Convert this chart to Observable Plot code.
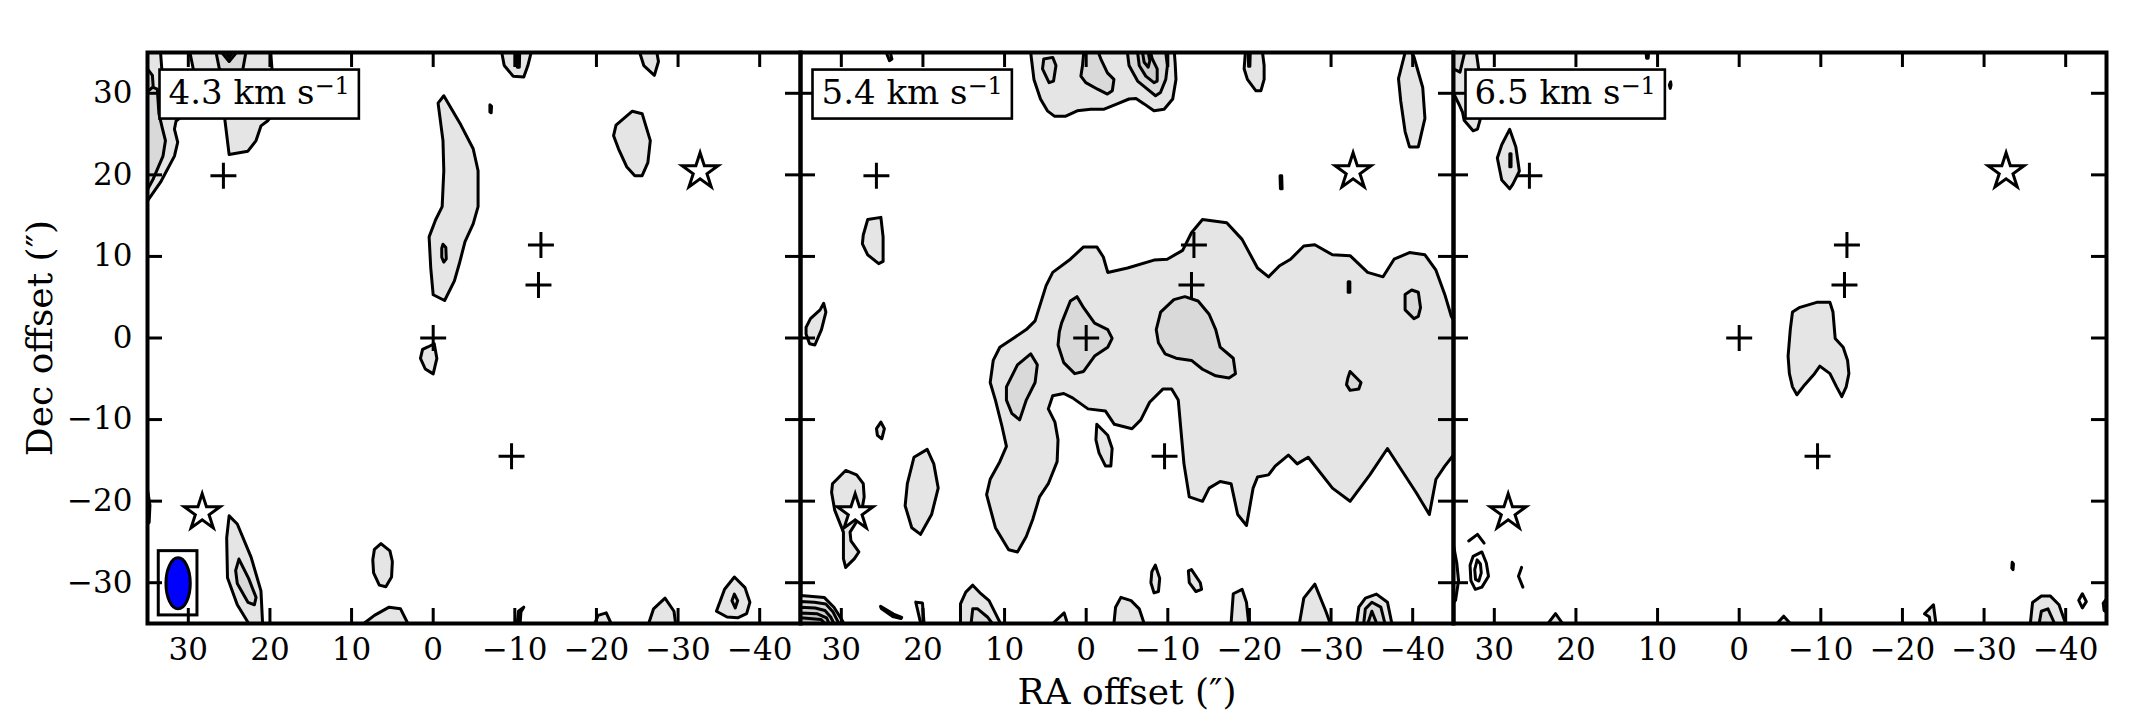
<!DOCTYPE html>
<html><head><meta charset="utf-8">
<script src="https://cdn.jsdelivr.net/npm/d3@7"></script>
<script src="https://cdn.jsdelivr.net/npm/@observablehq/plot@0.6"></script>
<style>
html,body{margin:0;padding:0;background:#fff;}
#chart{position:relative;width:2129px;height:721px;overflow:hidden;background:#fff;}
#chart svg{position:absolute;top:0;}
</style></head><body><div id="chart"></div>
<script>
// ---------- data ----------
const velocities = ["4.3", "5.4", "6.5"];
const velocityUnit = "km s";
const velocityExp = "−1";
const xLabel = "RA offset (″)";
const yLabel = "Dec offset (″)";
const xTicks = [30, 20, 10, 0, -10, -20, -30, -40];
const yTicks = [-30, -20, -10, 0, 10, 20, 30];
const raDomain = [35, -45];
const decDomain = [-35, 35];
const plusRA = [25.7, -13.2, -12.9, 0, -9.6];
const plusDec = [19.9, 11.4, 6.5, 0, -14.5];
const starRA = [-32.7, 28.3];
const starDec = [20.4, -21.4];
const beamRA = [31.25];
const beamDec = [-30.07];
const beamMajor = 6.24;
const beamMinor = 2.98;

// panel 1 (4.3 km/s) contours
const p1_topleft_a = [[35,35],[33.4,35],[33.1,31],[31.8,28.8],[30.5,27.4],[31.5,26.6],[31.7,25.6],[31.3,24.0],[31.7,22.3],[33.4,19.1],[35,16.8]];
const p1_topleft_b = [[29.8,35],[19.9,35],[19.6,31],[19.5,27.6],[20.3,26.6],[21.1,26.0],[21.7,24.2],[22.7,22.9],[25.0,22.5],[25.6,27.4],[27.5,30],[29.4,33]];
const p1_filament = [[-1.3,29.7],[-3.4,26.1],[-4.9,23.2],[-5.5,20.5],[-5.5,16.1],[-4.9,14.0],[-3.9,11.8],[-3.2,9.1],[-2.6,7.0],[-1.4,4.6],[0,5.3],[0.3,8.6],[0.5,12.4],[-0.3,14.5],[-1.1,16.1],[-1.3,20.5],[-1.2,24.2],[-0.6,28.8]];
const p1_origin_blob = [[0.65,-1.1],[-0.13,-0.7],[-0.45,-2.5],[0,-4.4],[0.97,-3.8],[1.56,-2.5],[1.3,-1.4]];
const p1_speck = [[-6.95,28.6],[-7.15,28.4],[-7.1,27.6],[-6.95,27.7]];
const p1_blob_ne = [[-22.4,26.1],[-24.4,27.8],[-25.6,27.5],[-26.6,24.2],[-26.3,21.5],[-25.6,19.9],[-24.7,19.9],[-23.7,21.0],[-22.7,23.2],[-22.1,24.8]];
const p1_top_a = [[-8.4,35],[-8.7,33.4],[-9.8,32.1],[-11.1,32.0],[-11.6,33.4],[-12.0,35]];
const p1_top_b = [[-25.3,35],[-25.8,33.4],[-27.1,32.2],[-27.6,33.9],[-27.4,35]];
const p1_ridge = [[25.0,-21.8],[24.0,-22.8],[22.3,-26.9],[21.1,-31.0],[20.9,-35],[22.6,-35],[24.0,-32.7],[25.2,-29.4],[25.3,-24.5]];
const p1_blob_s = [[7.2,-25.9],[6.4,-25.2],[5.3,-26.1],[5.0,-27.4],[5.1,-29.3],[5.8,-30.5],[6.6,-30.3],[7.3,-28.8],[7.4,-27.2]];
const p1_bottom_a = [[8.5,-35],[7.2,-34.0],[5.4,-33.0],[4.0,-33.2],[3.1,-35]];
const p1_bottom_b = [[-10.3,-35],[-10.45,-33.5],[-11.1,-33.0],[-10.75,-33.6],[-10.65,-35]];
const p1_bottom_c = [[-19.8,-35],[-20.2,-34.0],[-21.2,-33.7],[-21.8,-35]];
const p1_bottom_d = [[-26.4,-35],[-27.0,-33.2],[-28.4,-31.9],[-29.5,-33.5],[-29.7,-35]];
const p1_diamond = [[-34.7,-33.5],[-35.7,-30.8],[-36.9,-29.3],[-38.2,-30.6],[-38.8,-32.4],[-38.4,-33.8],[-37.3,-34.3],[-36.0,-34.2]];
const p1_left_sliver = [[35,-18.6],[34.7,-20.5],[34.8,-22.6],[35,-22.8]];
const p1_topleft_a2 = [[35,31],[33.8,30.5],[33.6,27.5],[33.2,25.8],[32.8,24.2],[33.1,22.3],[34.3,19.5],[35,18.2]];
const p1_topleft_b2 = [[26.6,35],[22.95,35],[23.4,32.5],[25.0,32.0],[26.2,33]];
const p1_filament2 = [[-1.2,11.5],[-1.55,11.1],[-1.6,9.7],[-1.3,9.3],[-1.05,9.9],[-1.05,11.0]];
const p1_top_a2 = [[-10.25,35],[-10.3,33.2],[-10.55,33.2],[-10.6,35]];
const p1_ridge2 = [[23.8,-27.1],[22.6,-29.5],[21.7,-31.8],[21.9,-32.7],[22.7,-32.4],[24.0,-30.1],[24.2,-28.5]];
const p1_diamond2 = [[-36.9,-31.4],[-37.3,-32.2],[-37.0,-33.1],[-36.6,-32.2]];
const p1_topleft_a3 = [[35,33],[34.4,32.2],[34.3,30.8],[35,30.2]];
const p1_topleft_b3 = [[25.9,35],[25.0,33.9],[24.1,35]];
const p1_topleft_b4 = [[25.4,35],[25.0,34.4],[24.6,35]];

// panel 2 (5.4 km/s) contours
const p2_main = [[6.26,2.10],[4.91,6.42],[4.10,8.04],[1.94,9.66],[0.32,11.17],[-1.30,11.17],[-2.10,9.93],[-2.64,8.04],[-5.07,8.58],[-8.31,9.55],[-9.93,9.66],[-11.82,10.74],[-12.90,12.90],[-14.25,14.52],[-17.22,14.14],[-19.10,12.09],[-20.99,8.58],[-22.34,7.50],[-23.69,8.85],[-25.04,9.66],[-26.66,11.28],[-28.01,11.44],[-30.17,10.20],[-32.33,10.09],[-34.48,8.04],[-36.37,7.50],[-37.72,9.66],[-39.61,10.47],[-41.50,10.20],[-42.85,8.31],[-43.93,5.34],[-44.74,2.64],[-45,2.2],[-45,-14.35],[-43.93,-15.70],[-42.85,-17.32],[-42.04,-21.64],[-40.42,-18.94],[-36.91,-13.55],[-34.75,-16.78],[-32.33,-20.02],[-30.17,-18.40],[-27.20,-14.62],[-25.85,-15.43],[-24.77,-14.35],[-23.15,-15.70],[-22.34,-16.78],[-20.99,-17.05],[-20.45,-18.40],[-19.64,-22.99],[-18.56,-21.64],[-17.75,-17.86],[-16.41,-17.59],[-15.06,-18.40],[-14.25,-20.02],[-12.63,-19.48],[-11.98,-15.43],[-11.28,-7.61],[-10.47,-6.26],[-9.39,-6.26],[-7.77,-7.88],[-6.69,-10.04],[-5.61,-11.12],[-3.45,-10.58],[-2.37,-8.96],[-0.22,-8.69],[1.67,-7.34],[2.75,-6.80],[4.10,-7.07],[4.64,-8.69],[3.83,-10.31],[3.45,-12.47],[3.56,-15.16],[4.64,-17.86],[5.72,-19.48],[6.53,-22.18],[7.34,-24.34],[8.42,-26.23],[9.50,-25.96],[11.12,-23.26],[12.20,-19.21],[11.76,-17.32],[10.58,-15.16],[9.77,-13.28],[10.31,-10.85],[11.12,-7.61],[11.76,-5.45],[11.39,-2.75],[10.58,-1.13],[8.96,-0.05],[7.34,1.03]];
const p2_top_cluster = [[6.8,35],[6.4,31.7],[5.6,29.3],[4.75,27.85],[3.9,27.2],[2.5,27.2],[1.1,27.85],[-0.55,28.05],[-2.2,28.05],[-3.8,28.7],[-5.25,29.3],[-6.1,29.35],[-7.1,28.7],[-8.3,27.85],[-9.55,28.05],[-10.6,29.3],[-11.0,31.7],[-10.9,33.7],[-10.8,35]];
const p2_top_b = [[-19.5,35],[-19.35,33.0],[-19.75,31.7],[-20.8,30.3],[-21.4,30.3],[-21.8,31.7],[-21.8,33.4],[-21.6,35]];
const p2_top_c = [[-39.07,35],[-38.26,31.79],[-38.53,29.09],[-39.07,25.31],[-39.61,23.42],[-40.69,23.42],[-41.5,26.93],[-41.23,30.71],[-40.15,34.48],[-39.88,35]];
const p2_speck_top = [[24.5,35],[24.1,34.0],[23.8,34.2],[24.0,35]];
const p2_blob_w = [[27.31,12.63],[26.77,14.52],[25.15,14.79],[24.88,12.36],[24.88,9.39],[25.42,9.12],[26.77,10.2],[27.42,11.55]];
const p2_edge_w = [[34.32,1.3],[33.78,2.37],[32.6,3.45],[32.16,4.26],[31.89,3.18],[32.43,1.03],[33.24,-0.86],[33.89,-0.7],[34.32,0.49]];
const p2_small_w = [[25.69,-11.12],[25.15,-10.31],[24.72,-11.12],[25.04,-12.36],[25.58,-11.93]];
const p2_blob_sw = [[21.91,-17.86],[21.1,-14.62],[19.48,-13.65],[18.67,-15.43],[18.13,-18.4],[18.94,-21.64],[20.29,-24.07],[21.37,-23.26],[22.18,-20.56]];
const p2_star_blob = [[31.08,-17.86],[29.47,-16.24],[28.12,-16.78],[27.31,-17.86],[27.2,-19.48],[27.58,-21.64],[28.93,-23.8],[28.82,-24.88],[27.85,-26.23],[28.39,-27.04],[29.47,-28.12],[29.74,-27.04],[29.74,-23.8],[30.81,-21.1],[31.19,-18.94]];
const p2_small_c = [[-1.3,-10.58],[-2.64,-11.93],[-3.18,-13.55],[-3.02,-15.7],[-2.37,-15.7],[-1.57,-14.09],[-1.19,-12.47]];
const p2_small_s1 = [[-8.04,-28.66],[-8.47,-27.85],[-9.01,-29.47],[-8.85,-31.08],[-8.31,-31.25],[-7.93,-30.0]];
const p2_small_s2 = [[-12.52,-28.55],[-12.9,-28.39],[-13.98,-30.0],[-14.14,-30.81],[-13.44,-31.08],[-12.63,-30.0]];
const p2_dash_a = [[-23.75,19.9],[-23.95,19.9],[-24.0,18.3],[-23.8,18.3]];
const p2_corner = [[35,-31.56],[33.5,-31.7],[32.1,-31.8],[30.9,-33.0],[29.9,-34.6],[29.7,-35],[35,-35]];
const p2_sliver_a = [[25.2,-32.9],[23.6,-33.85],[22.6,-34.25],[22.7,-34.4],[23.7,-34.15],[25.1,-33.15]];
const p2_sliver_b = [[20.88,-32.38],[20.27,-35],[19.86,-35],[20.06,-32.5]];
const p2_bot_a = [[15.4,-35],[15.4,-32.6],[14.75,-31.15],[13.9,-30.3],[12.9,-31.35],[11.9,-32.2],[11.3,-33.4],[10.5,-35]];
const p2_bot_b = [[4.1,-35],[2.7,-33.7],[2.3,-35]];
const p2_bot_c = [[-3.4,-35],[-3.6,-33.0],[-4.25,-31.8],[-5.5,-32.2],[-6.5,-33.2],[-7.1,-35]];
const p2_bot_d = [[-17.75,-35],[-18.02,-31.35],[-19.1,-30.81],[-19.64,-32.43],[-19.91,-35]];
const p2_bot_e = [[-26.12,-35],[-26.66,-31.89],[-28.01,-30.17],[-29.36,-33.5],[-29.9,-35]];
const p2_bot_f = [[-33.13,-35],[-33.4,-33.0],[-34.21,-31.9],[-35.56,-31.4],[-36.91,-32.4],[-37.45,-35]];
const p2_top_in_a = [[5.2,34.2],[4.1,34.4],[3.7,33.4],[4.0,31.5],[4.55,31.3],[5.35,33.0]];
const p2_top_in_b = [[0.3,35],[-1.5,35],[-1.8,34.2],[-2.6,32.5],[-3.4,31.7],[-3.2,30.3],[-2.6,29.9],[-1.4,30.5],[0.05,31.3],[0.65,32.1],[0.45,33.4]];
const p2_top_in_c = [[-5.05,35],[-5.25,33.4],[-6.3,31.5],[-7.5,30.5],[-8.5,29.7],[-9.1,30.1],[-9.75,31.7],[-9.95,33.4],[-9.75,35]];
const p2_origin_in = [[3.02,1.83],[1.94,4.53],[1.13,5.07],[0.32,3.72],[-1.03,1.83],[-2.64,1.03],[-3.18,-0.05],[-2.64,-1.13],[-1.03,-2.21],[0.32,-4.10],[1.40,-4.37],[2.75,-3.02],[3.45,-0.86],[3.29,0.76]];
const p2_mid_in = [[-8.58,1.03],[-9.12,3.18],[-10.74,4.70],[-12.09,5.07],[-13.71,4.53],[-15.06,2.91],[-15.87,1.03],[-16.41,-1.13],[-18.02,-2.48],[-18.29,-4.37],[-17.49,-4.91],[-15.87,-4.64],[-14.25,-3.83],[-12.90,-2.75],[-11.01,-2.48],[-9.66,-1.94],[-8.85,-0.59]];
const p2_left_in = [[9.77,-5.99],[8.42,-3.29],[6.80,-1.94],[5.99,-3.29],[6.26,-5.45],[7.34,-7.61],[8.15,-10.04],[9.12,-9.23],[9.77,-7.61]];
const p2_right_in = [[-39.07,5.34],[-39.88,5.88],[-40.69,5.61],[-40.96,3.72],[-40.69,2.64],[-40.15,2.37],[-39.07,3.45]];
const p2_small_in = [[-32.06,-4.91],[-32.33,-4.10],[-33.67,-5.45],[-33.40,-6.26],[-32.33,-6.42],[-31.89,-5.72]];
const p2_dash_b = [[-32.1,6.9],[-32.3,6.9],[-32.3,5.6],[-32.1,5.6]];
const p2_top_b2 = [[-19.85,35],[-19.9,33.3],[-20.05,33.3],[-20.1,35]];
const p2_bot_a2 = [[14.1,-35],[13.9,-33.2],[13.3,-33.2],[12.1,-34.2],[11.5,-35]];
const p2_corner2 = [[35,-32.3],[33.3,-32.4],[31.9,-32.6],[31.0,-33.6],[30.3,-35],[35,-35]];
const p2_bot_f2 = [[-34.0,-35],[-34.2,-33.2],[-35.0,-32.4],[-36.1,-33.0],[-36.6,-35]];
const p2_top_in_c3 = [[-6.3,35],[-6.5,33.4],[-7.3,32.1],[-8.3,31.3],[-8.7,31.5],[-8.7,33.0],[-8.1,34.2],[-7.9,35]];
const p2_corner3 = [[35,-33.0],[33.2,-33.1],[32.0,-33.4],[31.3,-34.2],[30.9,-35],[35,-35]];
const p2_bot_f3 = [[-34.5,-35],[-35.0,-33.5],[-35.6,-35]];
const p2_top_in_c4 = [[-6.9,35],[-7.1,33.8],[-7.6,33.2],[-7.8,34.0],[-7.6,35]];
const p2_corner4 = [[35,-33.7],[33.0,-33.8],[31.8,-34.3],[31.5,-35],[35,-35]];
const p2_corner5 = [[35,-34.3],[32.5,-34.5],[32.0,-35],[35,-35]];

// panel 3 (6.5 km/s) contours
const p3_main = [[-6.53,3.18],[-7.34,3.72],[-9.50,4.37],[-11.12,4.37],[-11.49,3.18],[-11.76,-0.05],[-12.74,-1.13],[-13.28,-2.75],[-13.44,-4.37],[-13.11,-5.99],[-12.57,-7.18],[-11.93,-5.99],[-11.12,-4.37],[-9.88,-3.45],[-9.23,-4.37],[-8.04,-5.72],[-7.07,-6.96],[-6.53,-5.99],[-6.15,-4.37],[-5.99,-2.21],[-6.26,1.03]];
const p3_island = [[29.63,22.07],[29.09,23.69],[28.12,25.58],[27.36,23.42],[26.93,20.45],[27.74,18.83],[28.12,18.29],[29.09,19.37]];
const p3_topleft = [[35,35],[35,30],[34.3,28.6],[33.9,27.7],[33.7,26.7],[32.6,25.4],[32.06,25.6],[31.7,26.9],[31.5,27.7],[31.5,30],[32.2,35]];
const p3_edge_sw = [[35,-25.42],[34.6,-27.58],[34.38,-29.74],[34.75,-32.16],[35,-32.43]];
const p3_bot_a = [[23.42,-35],[22.5,-33.8],[21.64,-35]];
const p3_bot_b = [[-4.64,-35],[-5.45,-34.1],[-6.26,-35]];
const p3_bot_c = [[-22.7,-33.8],[-23.8,-32.7],[-24.1,-35],[-23.4,-35],[-23.3,-34.2]];
const p3_bot_e = [[-35.67,-35],[-35.94,-32.43],[-37.02,-31.62],[-38.1,-31.62],[-39.18,-32.7],[-39.99,-35]];
const p3_speck_a = [[11.4,35],[11.35,34.3],[11.15,34.3],[11.1,35]];
const p3_speck_b = [[8.4,31.4],[8.55,31.0],[8.45,30.6],[8.35,31.0]];
const p3_speck_c = [[-33.45,-27.5],[-33.6,-27.7],[-33.55,-28.4],[-33.4,-28.2]];
const p3_edge_se = [[-45,-32.0],[-44.6,-32.5],[-44.7,-33.4],[-45,-33.6]];
const p3_island2 = [[27.95,22.6],[28.1,22.6],[28.1,21.0],[27.95,21.0]];
const p3_topleft2 = [[35,35],[35,33],[34.2,32.6],[33.7,34.75],[33.6,35]];
const p3_bot_e2 = [[-36.75,-35],[-37.02,-33.5],[-37.83,-33.2],[-38.64,-35]];
const p3_ring_outer = [[32.6,-26.77],[31.52,-26.23],[30.98,-27.58],[30.71,-29.2],[31.52,-30.54],[32.33,-30.81],[32.87,-29.74],[32.97,-27.85]];
const p3_ring_inner = [[32.1,-27.2],[31.7,-27.7],[31.6,-28.8],[31.9,-29.8],[32.3,-29.6],[32.4,-28.4]];
const p3_diamond = [[-41.6,-32.16],[-42.04,-31.35],[-42.53,-32.32],[-42.04,-33.08]];
const p3_arch = [[33.14,-24.88],[32.06,-24.07],[31.25,-25.15]];
const p3_paren = [[26.66,-28.12],[27.04,-29.2],[26.5,-30.54]];

const panel1Levels = [
  [p1_topleft_a, p1_topleft_b, p1_filament, p1_origin_blob, p1_speck, p1_blob_ne, p1_top_a, p1_top_b, p1_ridge, p1_blob_s, p1_bottom_a, p1_bottom_b, p1_bottom_c, p1_bottom_d, p1_diamond, p1_left_sliver],
  [p1_topleft_a2, p1_topleft_b2, p1_filament2, p1_top_a2, p1_ridge2, p1_diamond2],
  [p1_topleft_a3, p1_topleft_b3],
  [p1_topleft_b4]
];
const panel2Levels = [
  [p2_main, p2_top_cluster, p2_top_b, p2_top_c, p2_speck_top, p2_blob_w, p2_edge_w, p2_small_w, p2_blob_sw, p2_star_blob, p2_small_c, p2_small_s1, p2_small_s2, p2_dash_a, p2_corner, p2_sliver_a, p2_sliver_b, p2_bot_a, p2_bot_b, p2_bot_c, p2_bot_d, p2_bot_e, p2_bot_f],
  [p2_top_in_a, p2_top_in_b, p2_top_in_c, p2_origin_in, p2_mid_in, p2_left_in, p2_right_in, p2_small_in, p2_dash_b, p2_top_b2, p2_bot_a2, p2_corner2, p2_bot_f2],
  [p2_top_in_c3, p2_corner3, p2_bot_f3],
  [p2_top_in_c4, p2_corner4],
  [p2_corner5]
];
const panel3Levels = [
  [p3_main, p3_island, p3_topleft, p3_edge_sw, p3_bot_a, p3_bot_b, p3_bot_c, p3_bot_e, p3_speck_a, p3_speck_b, p3_speck_c, p3_edge_se],
  [p3_island2, p3_topleft2, p3_bot_e2]
];
const panelLevels = [panel1Levels, panel2Levels, panel3Levels];
const panelRings = [[], [], [p3_ring_outer, p3_ring_inner, p3_diamond]];
const panelOpen = [[], [], [p3_arch, p3_paren]];

// ---------- layout / style ----------
const levelFills = ["#e5e5e5", "#d9d9d9", "#cecece", "#c3c3c3", "#b8b8b8"];
const W = 820, H = 721, ML = 147, MR = 20, MT = 52, MB = 98;
const panelStep = 653;
const pxPerUnit = (W - ML - MR) / Math.abs(raDomain[1] - raDomain[0]);
const tickLen = 15 / pxPerUnit;
const font = "DejaVu Serif";
const lw = 3.0;
const tickFont = 31;
const fmt = d => (d < 0 ? "−" : "") + Math.abs(d);

const rows = polys => polys.flatMap((p, i) => p.map(([x, y]) => ({id: i, x, y})));
const beamRatio = beamMinor / beamMajor;
const ellipseSymbol = {
  draw(ctx, size) {
    const ry = Math.sqrt(size / Math.PI), rx = ry * beamRatio, k = 0.5523;
    ctx.moveTo(rx, 0);
    ctx.bezierCurveTo(rx, k * ry, k * rx, ry, 0, ry);
    ctx.bezierCurveTo(-k * rx, ry, -rx, k * ry, -rx, 0);
    ctx.bezierCurveTo(-rx, -k * ry, -k * rx, -ry, 0, -ry);
    ctx.bezierCurveTo(k * rx, -ry, rx, -k * ry, rx, 0);
    ctx.closePath();
  }
};

const chart = document.getElementById("chart");

velocities.forEach((v, k) => {
  const marks = [];
  panelLevels[k].forEach((polys, li) => {
    marks.push(Plot.line(rows(polys), {x: "x", y: "y", z: "id", curve: "linear-closed",
      fill: levelFills[li], stroke: "black", strokeWidth: lw, strokeLinejoin: "round"}));
  });
  if (panelRings[k].length) marks.push(Plot.line(rows(panelRings[k]), {x: "x", y: "y", z: "id",
    curve: "linear-closed", fill: "none", stroke: "black", strokeWidth: lw}));
  if (panelOpen[k].length) marks.push(Plot.line(rows(panelOpen[k]), {x: "x", y: "y", z: "id",
    curve: "linear", fill: "none", stroke: "black", strokeWidth: lw}));
  if (k === 0) {
    const bi = beamRA.map((d, i) => i);
    marks.push(Plot.rect(bi, {x1: i => beamRA[i] + beamMinor / 2 + 0.88, x2: i => beamRA[i] - beamMinor / 2 - 0.88,
      y1: i => beamDec[i] - beamMajor / 2 - 0.82, y2: i => beamDec[i] + beamMajor / 2 + 0.82,
      fill: "white", stroke: "black", strokeWidth: lw}));
    marks.push(Plot.dot(bi, {x: i => beamRA[i], y: i => beamDec[i], symbol: ellipseSymbol,
      r: beamMajor / 2 * pxPerUnit, fill: "#0000ff", stroke: "black", strokeWidth: lw}));
  }
  marks.push(Plot.dot(plusRA.map((d, i) => i), {x: i => plusRA[i], y: i => plusDec[i], symbol: "plus",
    r: 8.4, fill: "none", stroke: "black", strokeWidth: 3}));
  marks.push(Plot.dot(starRA.map((d, i) => i), {x: i => starRA[i], y: i => starDec[i], symbol: "star",
    r: 11.3, fill: "white", stroke: "black", strokeWidth: 3, strokeLinejoin: "miter"}));
  // inward ticks on all four sides
  marks.push(Plot.ruleX(xTicks, {x: d => d, y1: () => decDomain[0], y2: () => decDomain[0] + tickLen, stroke: "black", strokeWidth: 3}));
  marks.push(Plot.ruleX(xTicks, {x: d => d, y1: () => decDomain[1] - tickLen, y2: () => decDomain[1], stroke: "black", strokeWidth: 3}));
  marks.push(Plot.ruleY(yTicks, {y: d => d, x1: () => raDomain[0], x2: () => raDomain[0] - tickLen, stroke: "black", strokeWidth: 3}));
  marks.push(Plot.ruleY(yTicks, {y: d => d, x1: () => raDomain[1] + tickLen, x2: () => raDomain[1], stroke: "black", strokeWidth: 3}));
  marks.push(Plot.frame({stroke: "black", strokeWidth: 4}));
  // tick labels
  marks.push(Plot.text(xTicks, {x: d => d, y: () => decDomain[0], dy: 14, text: fmt,
    lineAnchor: "top", fontSize: tickFont, fill: "black"}));
  if (k === 0) marks.push(Plot.text(yTicks, {x: () => raDomain[0], y: d => d, dx: -15, text: fmt,
    textAnchor: "end", lineAnchor: "middle", fontSize: tickFont, fill: "black"}));
  // velocity label
  marks.push(Plot.text([v + " " + velocityUnit], {frameAnchor: "top-left", dx: 21, dy: 27,
    textAnchor: "start", lineAnchor: "top", fontSize: 34, fill: "black"}));
  if (k === 0) marks.push(Plot.text([yLabel], {x: () => raDomain[0] + 107 / pxPerUnit,
    y: () => (decDomain[0] + decDomain[1]) / 2, rotate: -90, fontSize: 36, fill: "black"}));
  if (k === 1) marks.push(Plot.text([xLabel], {frameAnchor: "bottom", dy: 80,
    fontSize: 36, fill: "black"}));

  const svg = Plot.plot({
    width: W, height: H,
    marginLeft: ML, marginRight: MR, marginTop: MT, marginBottom: MB,
    style: {background: "transparent", fontFamily: font, fontSize: "31px", color: "black", overflow: "visible"},
    x: {domain: raDomain, axis: null},
    y: {domain: decDomain, axis: null},
    marks
  });
  svg.style.left = (k * panelStep) + "px";
  chart.appendChild(svg);

  // superscript exponent + boxed label
  svg.querySelectorAll("text").forEach(t => {
    if (t.textContent === v + " " + velocityUnit) {
      const sup = document.createElementNS("http://www.w3.org/2000/svg", "tspan");
      sup.setAttribute("dy", "-0.42em");
      sup.setAttribute("font-size", "24");
      sup.textContent = velocityExp;
      t.appendChild(sup);
      const bb = t.getBBox();
      const rect = document.createElementNS("http://www.w3.org/2000/svg", "rect");
      rect.setAttribute("x", bb.x - 9);
      rect.setAttribute("y", bb.y - 2);
      rect.setAttribute("width", bb.width + 18);
      rect.setAttribute("height", 49);
      rect.setAttribute("fill", "white");
      rect.setAttribute("stroke", "black");
      rect.setAttribute("stroke-width", 2.6);
      if (t.getAttribute("transform")) rect.setAttribute("transform", t.getAttribute("transform"));
      t.parentNode.insertBefore(rect, t);
    }
  });
});
</script></body></html>
